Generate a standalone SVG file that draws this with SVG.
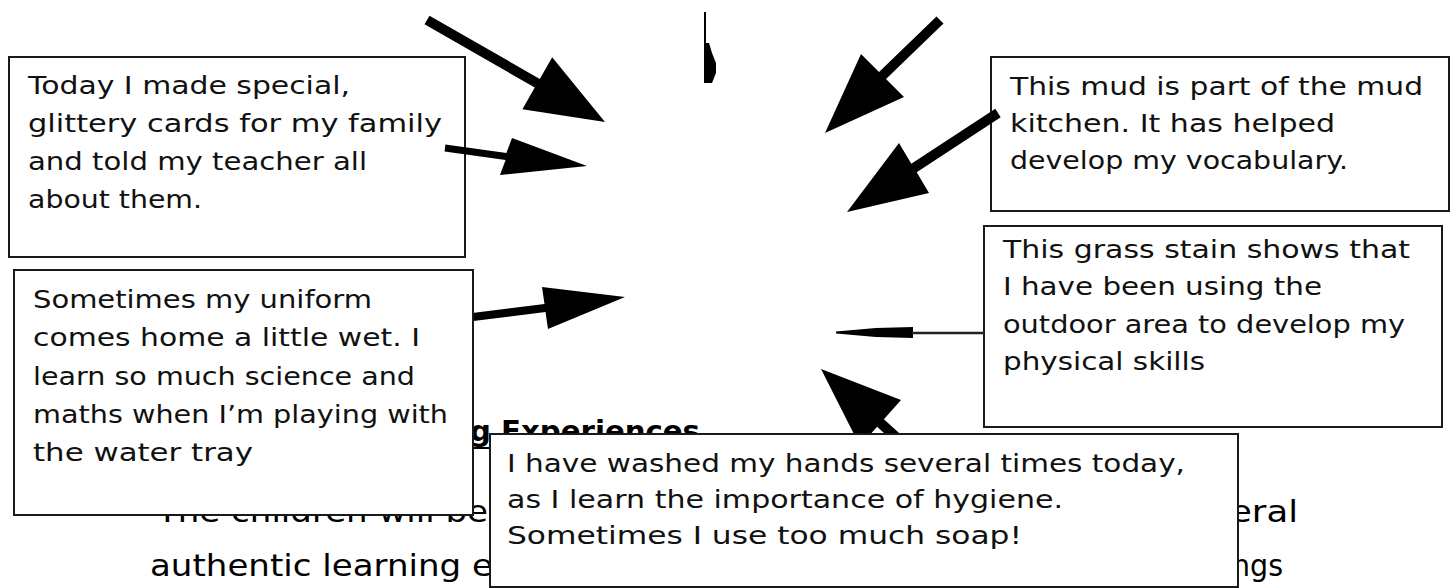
<svg xmlns="http://www.w3.org/2000/svg" width="1452" height="588" viewBox="0 0 1452 588">
<style>
.box{fill:#fff;stroke:#1a1a1a;stroke-width:2}
.t{font-family:"DejaVu Sans",sans-serif;font-size:25px;fill:#111}
.body{font-family:"DejaVu Sans",sans-serif;font-size:30px;fill:#000}
.head{font-family:"DejaVu Sans",sans-serif;font-size:28px;font-weight:bold;fill:#000}
.arr{fill:#000;stroke:none}
</style>
<rect width="1452" height="588" fill="#fff"/>
<g id="background-text">
<text class="head" x="470" y="441" textLength="230" lengthAdjust="spacingAndGlyphs">g Experiences</text>
<line x1="467" y1="448" x2="700" y2="448" stroke="#000" stroke-width="2"/>
<text class="body" x="157" y="522" textLength="331" lengthAdjust="spacingAndGlyphs">The children will be</text>
<text class="body" x="1230" y="522" textLength="68" lengthAdjust="spacingAndGlyphs">eral</text>
<text class="body" x="150" y="576" textLength="343" lengthAdjust="spacingAndGlyphs">authentic learning e</text>
<text class="body" x="1232" y="576" textLength="51" lengthAdjust="spacingAndGlyphs">ngs</text>
</g>
<g id="node-cards">
<rect class="box" x="9" y="57" width="456" height="200"/>
<text class="t" x="28" y="94" textLength="322" lengthAdjust="spacingAndGlyphs">Today I made special,</text>
<text class="t" x="28" y="132" textLength="414" lengthAdjust="spacingAndGlyphs">glittery cards for my family</text>
<text class="t" x="28" y="170" textLength="339" lengthAdjust="spacingAndGlyphs">and told my teacher all</text>
<text class="t" x="28" y="208" textLength="174" lengthAdjust="spacingAndGlyphs">about them.</text>
</g>
<g id="node-mud">
<rect class="box" x="991" y="57" width="458" height="154"/>
<text class="t" x="1010" y="95" textLength="413" lengthAdjust="spacingAndGlyphs">This mud is part of the mud</text>
<text class="t" x="1010" y="132" textLength="325" lengthAdjust="spacingAndGlyphs">kitchen. It has helped</text>
<text class="t" x="1010" y="169" textLength="338" lengthAdjust="spacingAndGlyphs">develop my vocabulary.</text>
</g>
<g id="node-grass">
<rect class="box" x="984" y="226" width="458" height="201"/>
<text class="t" x="1003" y="258" textLength="407" lengthAdjust="spacingAndGlyphs">This grass stain shows that</text>
<text class="t" x="1003" y="295" textLength="319" lengthAdjust="spacingAndGlyphs">I have been using the</text>
<text class="t" x="1003" y="333" textLength="402" lengthAdjust="spacingAndGlyphs">outdoor area to develop my</text>
<text class="t" x="1003" y="370" textLength="202" lengthAdjust="spacingAndGlyphs">physical skills</text>
</g>
<g id="connectors">
<polygon class="arr" points="429.5,15.7 539.8,78.9 552.2,57.2 605,122 522.4,109.2 534.8,87.5 424.5,24.3"/>
<polygon class="arr" points="445.4,144.5 506.4,153 512,138 587,166 500,175 505.6,160 444.6,151.5"/>
<polygon class="arr" points="936.5,16.5 879,72 861,54 825,133 904,97 886,79 943.5,23.5"/>
<polygon class="arr" points="995.3,108.8 911.3,163.8 899,143 847,212 929,193 916.7,172.2 1000.7,117.2"/>
<polygon class="arr" points="472.5,313 544.5,304 542,287 625,297 548,329 545.5,312 473.5,321"/>
<polygon class="arr" points="836,331.5 876,328 913,327 913,338 876,337 836,333.5"/>
<line x1="912" y1="333" x2="984" y2="333" stroke="#222" stroke-width="2.5"/>
<polygon class="arr" points="821,369 901,400 883.9,419.3 933.4,464.3 926.6,471.7 877.1,426.7 860,446"/>
<polygon class="arr" points="704,12 706,12 706,43 709,43 712,53 716,63 716,73 712,83 704,83"/>
</g>
<g id="node-uniform">
<rect class="box" x="14" y="270" width="459" height="245"/>
<text class="t" x="33" y="308" textLength="339" lengthAdjust="spacingAndGlyphs">Sometimes my uniform</text>
<text class="t" x="33" y="346" textLength="387" lengthAdjust="spacingAndGlyphs">comes home a little wet. I</text>
<text class="t" x="33" y="385" textLength="382" lengthAdjust="spacingAndGlyphs">learn so much science and</text>
<text class="t" x="33" y="423" textLength="415" lengthAdjust="spacingAndGlyphs">maths when I’m playing with</text>
<text class="t" x="33" y="461" textLength="220" lengthAdjust="spacingAndGlyphs">the water tray</text>
</g>
<g id="node-hands">
<rect class="box" x="490" y="434" width="748" height="153"/>
<text class="t" x="507" y="472" textLength="678" lengthAdjust="spacingAndGlyphs">I have washed my hands several times today,</text>
<text class="t" x="507" y="508" textLength="556" lengthAdjust="spacingAndGlyphs">as I learn the importance of hygiene.</text>
<text class="t" x="507" y="544" textLength="515" lengthAdjust="spacingAndGlyphs">Sometimes I use too much soap!</text>
</g>
</svg>
